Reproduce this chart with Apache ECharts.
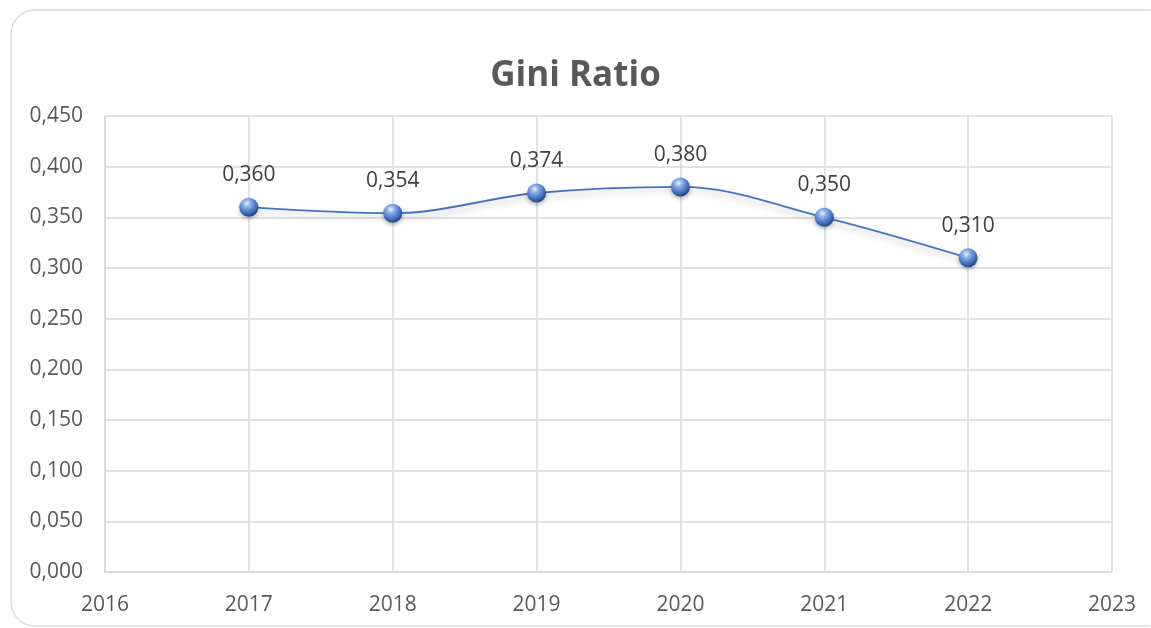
<!DOCTYPE html>
<html>
<head>
<meta charset="utf-8">
<script src="https://cdn.jsdelivr.net/npm/echarts@6/dist/echarts.min.js"></script>
<style>html,body{margin:0;padding:0;background:#fff}#c{width:1151px;height:628px}</style>
</head>
<body>
<div id="c"></div>
<script>
const titleText = 'Gini Ratio';
const years = [2017, 2018, 2019, 2020, 2021, 2022];
const gini = [0.360, 0.354, 0.374, 0.380, 0.350, 0.310];
const xMin = 2016, xMax = 2023;
const yMin = 0, yMax = 0.45, yStep = 0.05;

const fmt = v => v.toFixed(3).replace('.', ',');
const FONT = 'Open Sans';
const chart = echarts.init(document.getElementById('c'), null, {renderer: 'canvas'});
chart.setOption({
  animation: false,
  backgroundColor: '#fff',
  graphic: [{
    type: 'rect', z: -10,
    shape: {x: 11, y: 10, width: 1160, height: 616, r: 24},
    style: {fill: '#fff', stroke: '#d9d9d9', lineWidth: 1.3}
  }],
  title: {
    text: titleText, left: 'center', top: 54,
    textStyle: {fontFamily: FONT, fontSize: 35, fontWeight: 'bold', color: '#595959'}
  },
  grid: {left: 105, right: 39, top: 116, bottom: 56, containLabel: false},
  xAxis: {
    type: 'value', min: xMin, max: xMax, interval: 1,
    axisLine: {show: true, lineStyle: {color: '#d9d9d9', width: 1.5}},
    axisTick: {show: false},
    splitLine: {show: true, lineStyle: {color: '#d9d9d9', width: 1.5}},
    axisLabel: {margin: 23, color: '#595959', fontFamily: FONT, fontSize: 21, formatter: v => String(v)}
  },
  yAxis: {
    type: 'value', min: yMin, max: yMax, interval: yStep,
    axisLine: {show: true, lineStyle: {color: '#d9d9d9', width: 1.5}},
    axisTick: {show: false},
    splitLine: {show: true, lineStyle: {color: '#d9d9d9', width: 1.5}},
    axisLabel: {margin: 22, color: '#595959', fontFamily: FONT, fontSize: 21, formatter: v => fmt(v)}
  },
  series: [{
    type: 'line',
    data: years.map((y, i) => [y, gini[i]]),
    smooth: 0.35,
    symbol: 'circle',
    symbolSize: 19,
    lineStyle: {color: '#4472C4', width: 1.8, shadowColor: 'rgba(0,0,0,0.25)', shadowBlur: 6, shadowOffsetY: 4},
    itemStyle: {
      color: {
        type: 'radial', x: 0.4, y: 0.3, r: 0.75,
        colorStops: [
          {offset: 0, color: '#eef4ff'},
          {offset: 0.25, color: '#8fb0ea'},
          {offset: 0.65, color: '#4472C4'},
          {offset: 1, color: '#1c3a78'}
        ]
      },
      borderWidth: 0,
      shadowColor: 'rgba(0,0,0,0.3)', shadowBlur: 4, shadowOffsetY: 2
    },
    label: {
      show: true, position: 'top', distance: 12,
      color: '#404040', fontFamily: FONT, fontSize: 21,
      formatter: p => fmt(p.value[1])
    },
    z: 5
  }]
});
</script>
</body>
</html>
